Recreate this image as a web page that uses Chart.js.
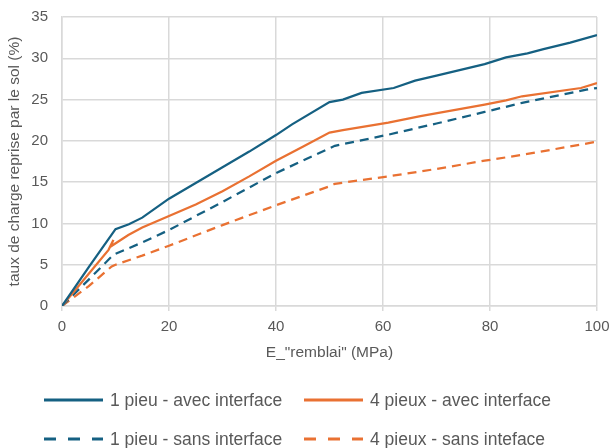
<!DOCTYPE html>
<html>
<head>
<meta charset="utf-8">
<script src="https://cdn.jsdelivr.net/npm/chart.js@4"></script>
<style>
  html, body { margin: 0; padding: 0; background: #fff; }
  #wrap { width: 611px; height: 448px; }
</style>
</head>
<body>
<div id="wrap"><canvas id="c" width="611" height="448"></canvas></div>
<script>
// E_remblai (MPa) and load share (%)
const e1 = [0, 5, 10, 12.5, 15, 20, 25, 30, 35, 40, 43, 50, 52.5, 56, 62, 66, 70, 79, 83, 87, 90, 95, 100];
const s1 = [0, 4.7, 9.3, 9.9, 10.7, 13.0, 14.9, 16.8, 18.7, 20.7, 22.0, 24.7, 25.0, 25.8, 26.4, 27.3, 27.9, 29.3, 30.1, 30.6, 31.1, 31.9, 32.8];

const e2 = [0, 5, 8.7, 9.6, 9.1, 12.4, 15, 20, 25, 30, 35, 40, 45, 50, 52.5, 61, 67, 79, 83, 86, 97, 100];
const s2 = [0, 3.9, 6.8, 8.0, 7.2, 8.6, 9.5, 10.9, 12.3, 13.9, 15.7, 17.6, 19.3, 21.0, 21.3, 22.2, 23.0, 24.4, 24.9, 25.4, 26.4, 27.0];

const e3 = [0, 5, 9.6, 15, 20, 30, 40, 45, 50, 51, 61, 70, 79, 86, 98, 100];
const s3 = [0, 3.2, 6.2, 7.7, 9.2, 12.6, 16.1, 17.6, 19.1, 19.4, 20.75, 22.1, 23.5, 24.6, 26.2, 26.4];

const e4 = [0, 5, 9.3, 10, 15, 20, 30, 40, 50, 51, 61, 70, 79, 86, 100];
const s4 = [0, 2.4, 4.8, 5.0, 6.1, 7.3, 9.8, 12.2, 14.5, 14.8, 15.7, 16.6, 17.6, 18.3, 19.9];

const names = ['1 pieu - avec interface', '4 pieux - avec interface', '1 pieu - sans interface', '4 pieux - sans inteface'];

const BLUE = '#156082';
const ORANGE = '#e97132';
const GREY = '#595959';
const GRID = '#d9d9d9';

function pts(xs, ys) {
  return xs.map((x, i) => ({ x: x, y: ys[i] }));
}

function ds(label, xs, ys, color, dashed) {
  return {
    label: label,
    data: pts(xs, ys),
    showLine: true,
    borderColor: color,
    backgroundColor: color,
    borderWidth: 2.25,
    borderDash: dashed ? [9, 6] : [],
    pointRadius: 0,
    tension: 0,
  };
}

// titles and the legend are drawn by hand to sit where they are in the picture
const decor = {
  id: 'decor',
  afterDraw(chart) {
    const ctx = chart.ctx;
    const area = chart.chartArea;
    ctx.save();
    ctx.fillStyle = GREY;
    ctx.textBaseline = 'middle';
    ctx.textAlign = 'center';

    ctx.font = '15.5px "Liberation Sans", Arial, sans-serif';
    ctx.fillText('E_"remblai" (MPa)', (area.left + area.right) / 2, 353);

    ctx.save();
    ctx.translate(15, (area.top + area.bottom) / 2);
    ctx.rotate(-Math.PI / 2);
    ctx.fillText('taux de charge reprise par le sol (%)', 0, 0);
    ctx.restore();

    const cols = [44, 304];
    const rows = [400, 439];
    const colors = [BLUE, ORANGE, BLUE, ORANGE];
    ctx.textAlign = 'left';
    ctx.font = '17.5px "Liberation Sans", Arial, sans-serif';
    for (let i = 0; i < 4; i++) {
      const x = cols[i % 2];
      const y = rows[Math.floor(i / 2)];
      ctx.beginPath();
      ctx.strokeStyle = colors[i];
      ctx.lineWidth = 3;
      ctx.setLineDash(i >= 2 ? [12, 12] : []);
      ctx.moveTo(x, y);
      ctx.lineTo(x + 59, y);
      ctx.stroke();
      ctx.setLineDash([]);
      ctx.fillText(names[i], x + 66, y + 1);
    }
    ctx.restore();
  }
};

new Chart(document.getElementById('c'), {
  type: 'scatter',
  data: {
    datasets: [
      ds(names[0], e1, s1, BLUE, false),
      ds(names[1], e2, s2, ORANGE, false),
      ds(names[2], e3, s3, BLUE, true),
      ds(names[3], e4, s4, ORANGE, true),
    ]
  },
  options: {
    responsive: false,
    animation: false,
    layout: { padding: { top: 17, right: 14, left: 0, bottom: 0 } },
    plugins: {
      legend: { display: false },
      tooltip: { enabled: false },
    },
    scales: {
      x: {
        type: 'linear',
        min: 0,
        max: 100,
        afterFit(scale) {
          scale.height = 142;
          scale.paddingLeft = 0;
          scale.paddingRight = 0;
        },
        ticks: {
          stepSize: 20,
          color: GREY,
          padding: 7,
          font: { family: '"Liberation Sans", Arial, sans-serif', size: 15 },
        },
        grid: { color: GRID, lineWidth: 1.5, tickLength: 5, drawTicks: true },
        border: { color: GRID, width: 1.5 },
      },
      y: {
        min: 0,
        max: 35,
        afterFit(scale) {
          scale.width = 62;
          scale.paddingTop = 0;
          scale.paddingBottom = 0;
        },
        ticks: {
          stepSize: 5,
          color: GREY,
          padding: 14,
          font: { family: '"Liberation Sans", Arial, sans-serif', size: 15 },
        },
        grid: { color: GRID, lineWidth: 1.5, drawTicks: false },
        border: { color: GRID, width: 1.5 },
      }
    }
  },
  plugins: [decor]
});
</script>
</body>
</html>
